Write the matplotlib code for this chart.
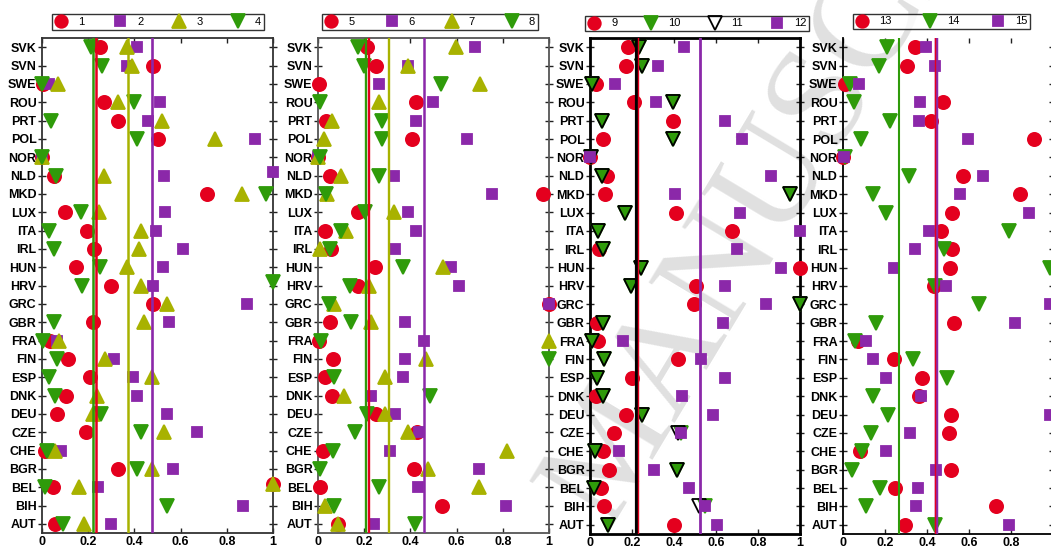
import numpy as np
import matplotlib.pyplot as plt
from matplotlib.lines import Line2D
from matplotlib.transforms import ScaledTranslation

plt.rcParams['font.family'] = ['Liberation Sans', 'DejaVu Sans']

nan = np.nan

# countries, top row first
countries = ["SVK", "SVN", "SWE", "ROU", "PRT", "POL", "NOR", "NLD", "MKD", "LUX",
             "ITA", "IRL", "HUN", "HRV", "GRC", "GBR", "FRA", "FIN", "ESP", "DNK",
             "DEU", "CZE", "CHE", "BGR", "BEL", "BIH", "AUT"]

# ---- panel 1 (series 1-4)
p1_labels = ["1", "2", "3", "4"]
p1_s1 = [0.25, 0.48, 0.005, 0.27, 0.33, 0.50, 0.0, 0.05, 0.716, 0.098,
         0.193, 0.225, 0.147, 0.30, 0.48, 0.222, 0.035, 0.113, 0.208, 0.104,
         0.066, 0.19, 0.013, 0.329, 0.046, 1.0, 0.056]
p1_s2 = [0.41, 0.37, 0.03, 0.51, 0.46, 0.92, 0.0, 0.53, 1.0, 0.534,
         0.494, 0.61, 0.522, 0.48, 0.886, 0.548, 0.066, 0.312, 0.395, 0.41,
         0.54, 0.672, 0.081, 0.568, 0.242, 0.872, 0.30]
p1_s3 = [0.37, 0.39, 0.07, 0.33, 0.52, 0.75, 0.0, 0.27, 0.866, 0.247,
         0.427, 0.42, 0.367, 0.427, 0.54, 0.44, 0.075, 0.274, 0.475, 0.237,
         0.222, 0.528, 0.058, 0.475, 0.159, 1.0, 0.182]
p1_s4 = [0.21, 0.26, 0.0, 0.40, 0.04, 0.41, 0.0, 0.06, 0.968, 0.17,
         0.03, 0.05, 0.251, 0.172, 1.0, 0.052, 0.006, 0.066, 0.032, 0.058,
         0.254, 0.427, 0.023, 0.41, 0.014, 0.54, 0.089]
p1_means = [0.235, 0.475, 0.374, 0.222]

# ---- panel 2 (series 5-8)
p2_labels = ["5", "6", "7", "8"]
p2_s5 = [0.214, 0.252, 0.003, 0.423, 0.036, 0.407, 0.0, 0.053, 0.974, 0.171,
         0.029, 0.058, 0.245, 0.173, 1.0, 0.05, 0.004, 0.065, 0.029, 0.059,
         0.252, 0.427, 0.022, 0.416, 0.01, 0.537, 0.085]
p2_s6 = [0.678, 0.388, 0.265, 0.496, 0.424, 0.646, 0.0, 0.33, 0.753, 0.388,
         0.423, 0.334, 0.576, 0.612, 1.0, 0.377, 0.46, 0.377, 0.37, 0.23,
         0.334, 0.437, 0.312, 0.698, 0.432, 0.816, 0.243]
p2_s7 = [0.597, 0.388, 0.70, 0.266, 0.059, 0.027, 0.0, 0.099, 0.039, 0.327,
         0.122, 0.007, 0.542, 0.219, 0.068, 0.23, 1.0, 0.468, 0.288, 0.111,
         0.288, 0.388, 0.819, 0.478, 0.696, 0.029, 0.086]
p2_s8 = [0.171, 0.197, 0.532, 0.007, 0.276, 0.276, 0.01, 0.266, 0.036, 0.204,
         0.10, 0.05, 0.37, 0.137, 0.046, 0.144, 0.014, 1.0, 0.068, 0.485,
         0.214, 0.161, 0.063, 0.01, 0.262, 0.07, 0.42]
p2_means = [0.222, 0.459, 0.308, 0.207]

# ---- panel 3 (series 9-12)
p3_labels = ["9", "10", "11", "12"]
p3_s9 = [0.182, 0.171, 0.027, 0.211, 0.393, 0.063, 0.0, 0.079, 0.071, 0.409,
         0.677, 0.043, 1.0, 0.507, 0.494, 0.032, 0.04, 0.417, 0.201, 0.029,
         0.171, 0.113, 0.063, 0.09, 0.051, 0.068, 0.399]
p3_s10 = [0.235, 0.249, 0.008, 0.396, 0.055, 0.396, 0.005, 0.059, 0.951, 0.166,
          0.04, 0.06, 0.242, 0.195, 1.0, 0.063, 0.011, 0.068, 0.035, 0.063,
          0.249, 0.433, 0.024, 0.412, 0.019, 0.547, 0.084]
p3_s11 = [0.235, 0.249, 0.008, 0.396, 0.055, 0.396, 0.005, 0.059, 0.951, 0.166,
          0.04, 0.06, 0.242, 0.195, 1.0, 0.063, 0.011, 0.068, 0.035, 0.063,
          0.249, 0.417, 0.024, 0.412, 0.019, 0.518, 0.084]
p3_s12 = [0.448, 0.322, 0.119, 0.314, 0.642, 0.726, 0.0, 0.864, 0.404, 0.713,
          1.0, 0.70, 0.911, 0.645, 0.838, 0.634, 0.155, 0.528, 0.642, 0.436,
          0.586, 0.433, 0.139, 0.306, 0.472, 0.547, 0.607]
p3_means = [0.228, 0.217, 0.217, 0.525]

# ---- panel 4 (series 13-15)
p4_labels = ["13", "14", "15"]
p4_s13 = [0.344, 0.305, 0.011, 0.475, 0.419, 0.911, 0.0, 0.571, 0.841, 0.521,
          0.467, 0.521, 0.511, 0.432, nan, 0.527, 0.07, 0.241, 0.376, 0.36,
          0.513, 0.503, 0.079, 0.514, 0.246, 0.729, 0.294]
p4_s14 = [0.21, 0.17, 0.032, 0.054, 0.222, 0.086, 0.01, 0.313, 0.143, 0.205,
          0.789, 0.483, 0.987, 0.44, 0.648, 0.156, 0.056, 0.333, 0.495, 0.143,
          0.213, 0.135, 0.09, 0.043, 0.175, 0.11, 0.437]
p4_s15 = [0.397, 0.44, 0.078, 0.365, 0.363, 0.594, 0.005, 0.667, 0.556, 0.884,
          0.408, 0.343, 0.241, 0.489, 0.987, 0.817, 0.11, 0.143, 0.206, 0.371,
          0.987, 0.321, 0.205, 0.444, 0.359, 0.349, 0.792]
p4_means = [0.437, 0.267, 0.441]

xticks = [0, 0.2, 0.4, 0.6, 0.8, 1]
xticklabels = ["0", "0.2", "0.4", "0.6", "0.8", "1"]

RED = "#e4001e"
PURPLE = "#8b28a9"
OLIVE = "#a8b200"
GREEN = "#2f9b0a"

# marker styles: marker, face, edge, size
M_RED = ("o", RED, RED, 9.5)
M_PUR = ("s", PURPLE, PURPLE, 7.5)
M_OLI = ("^", OLIVE, OLIVE, 10.5)
M_GRN = ("v", GREEN, GREEN, 10.5)
M_HOL = ("v", "none", "black", 10.5)

W, H = 1051, 550


def px_box(l, r, t, b):
    return [l / W, 1 - b / H, (r - l) / W, (b - t) / H]


panels = [
    dict(box=(42, 273, 38, 533), leg=(52, 264, 12, 32), labels=p1_labels,
         series=[p1_s1, p1_s2, p1_s3, p1_s4], means=p1_means,
         marks=[M_RED, M_PUR, M_OLI, M_GRN],
         lines=[(RED, 1.8), (PURPLE, 1.9), (OLIVE, 1.8), (GREEN, 1.8)],
         line_order=[3, 0, 2, 1], spine=("#333333", 1.3), edge_shift=True, last=True),
    dict(box=(318, 549, 38, 533), leg=(322, 538, 12, 32), labels=p2_labels,
         series=[p2_s5, p2_s6, p2_s7, p2_s8], means=p2_means,
         marks=[M_RED, M_PUR, M_OLI, M_GRN],
         lines=[(RED, 1.7), (PURPLE, 1.8), (OLIVE, 1.7), (GREEN, 1.7)],
         line_order=[3, 0, 2, 1], spine=("#555555", 1.3), edge_shift=False, last=True),
    dict(box=(590, 800, 38, 534), leg=(585, 809, 14, 33), labels=p3_labels,
         series=[p3_s9, p3_s10, p3_s11, p3_s12], means=p3_means,
         marks=[M_RED, M_GRN, M_HOL, M_PUR],
         lines=[(RED, 1.0), (GREEN, 2.0), ("black", 2.3), (PURPLE, 2.0)],
         line_order=[1, 2, 0, 3], spine=("black", 2.0), edge_shift=False, last=True),
    dict(box=(843, 1053, 38, 534), leg=(853, 1030, 12, 31), labels=p4_labels,
         series=[p4_s13, p4_s14, p4_s15], means=p4_means,
         marks=[M_RED, M_GRN, M_PUR],
         lines=[(RED, 1.0), (GREEN, 1.5), (PURPLE, 2.5)],
         line_order=[1, 2, 0], spine=("black", 1.3), edge_shift=False, last=False),
]

fig = plt.figure(figsize=(W / 100, H / 100), dpi=100)
ypos = np.arange(len(countries))[::-1]

for p in panels:
    ax = fig.add_axes(px_box(*p["box"]))
    ax.patch.set_alpha(0)
    # points sitting on x=1 in the first panel are drawn a bit higher in the original
    shift = ax.transData + ScaledTranslation(0, 22 / 100, fig.dpi_scale_trans)

    handles = []
    for vals, (mk, fc, ec, ms), lab in zip(p["series"], p["marks"], p["labels"]):
        vals = np.array(vals, dtype=float)
        if p["edge_shift"]:
            edge = vals >= 1.0
            ax.plot(vals[~edge], ypos[~edge], ls="none", marker=mk, mfc=fc, mec=ec,
                    ms=ms, mew=1.3, clip_on=False, zorder=3)
            ax.plot(vals[edge], ypos[edge], ls="none", marker=mk, mfc=fc, mec=ec,
                    ms=ms, mew=1.3, clip_on=False, zorder=3, transform=shift)
        else:
            ax.plot(vals, ypos, ls="none", marker=mk, mfc=fc, mec=ec, ms=ms,
                    mew=1.3, clip_on=False, zorder=3)
        handles.append(Line2D([], [], ls="none", marker=mk, mfc=fc, mec=ec,
                              ms=ms * 0.95, mew=1.3, label=lab))

    for i in p["line_order"]:
        col, lw = p["lines"][i]
        ax.axvline(p["means"][i], color=col, lw=lw, zorder=4)

    ax.set_xlim(0, 1)
    ax.set_ylim(-0.5, len(countries) - 0.5)
    ax.set_yticks(ypos)
    ax.set_yticklabels(countries, fontsize=9, fontweight="bold")
    ax.set_xticks(xticks)
    if p["last"]:
        ax.set_xticklabels(xticklabels, fontsize=9, fontweight="bold")
    else:
        # the right end of the last panel falls outside the picture
        ax.set_xticklabels(xticklabels[:-1] + [""], fontsize=9, fontweight="bold")
    ax.tick_params(axis="y", which="both", left=True, right=True, direction="inout",
                   length=6, width=1, pad=1, colors="#222222", labelcolor="black")
    ax.tick_params(axis="x", which="both", top=True, bottom=True, direction="in",
                   length=3.5, width=1, pad=2.5, colors="#222222", labelcolor="black")

    scol, slw = p["spine"]
    for s in ax.spines.values():
        s.set_color(scol)
        s.set_linewidth(slw)
    if not p["last"]:
        ax.spines["top"].set_visible(False)

    l, r, t, b = p["leg"]
    leg = ax.legend(handles=handles, loc="center", ncol=len(handles), mode="expand",
                    bbox_to_anchor=(l / W, 1 - b / H, (r - l) / W, (b - t) / H),
                    bbox_transform=fig.transFigure, frameon=True, fancybox=False,
                    fontsize=8, borderpad=0.25, handletextpad=0.9, borderaxespad=0,
                    handlelength=1.2, columnspacing=1.0)
    leg.get_frame().set_edgecolor("black")
    leg.get_frame().set_linewidth(1.0)

# light diagonal watermark behind the panels
fig.text(0.578, 0.038, "MANUSCRIPT", rotation=59, rotation_mode="anchor",
         ha="left", va="baseline", fontsize=104, color="#e0e0e0", zorder=-1,
         family=["Liberation Serif", "DejaVu Serif"])

fig.savefig("out.png", dpi=100, facecolor="white")
